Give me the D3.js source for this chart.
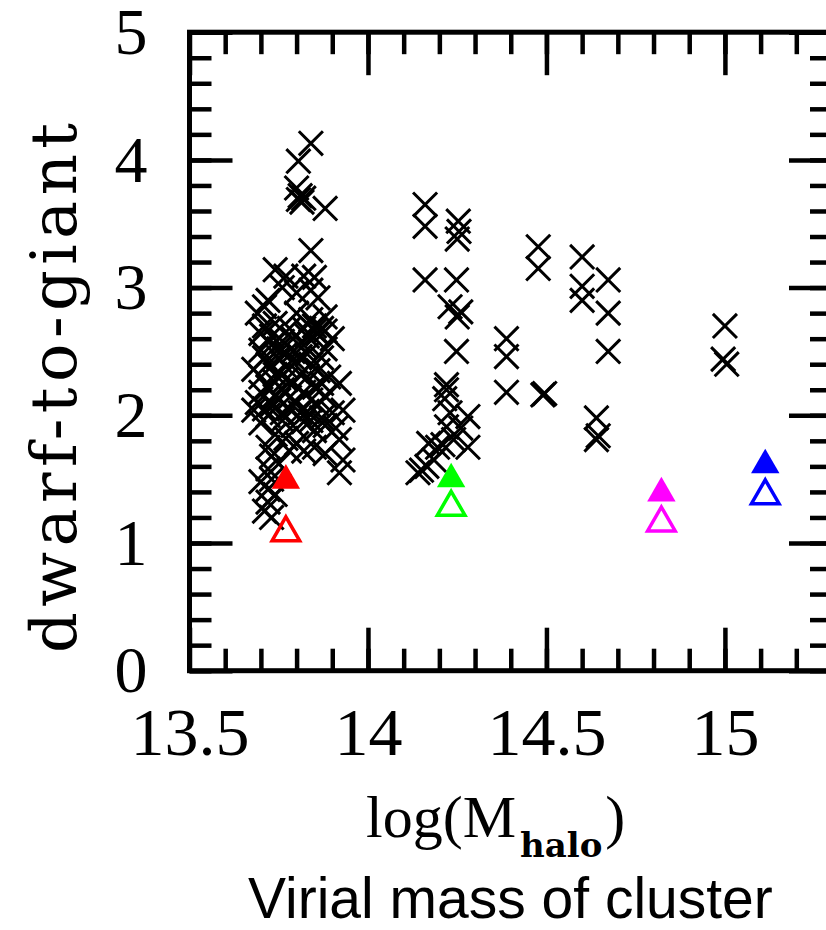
<!DOCTYPE html>
<html>
<head>
<meta charset="utf-8">
<script src="https://cdn.jsdelivr.net/npm/d3@7"></script>
<style>
  body { margin: 0; background: #fff; }
  svg { display: block; }
</style>
</head>
<body>
<div id="chart"></div>
<script>
// log(M_halo) vs dwarf-to-giant ratio, one cross per cluster
const crossPoints = [
  // low mass groups ~13.7-13.9
  [13.84,4.13],[13.805,3.99],[13.80,3.78],[13.81,3.72],[13.805,3.69],[13.82,3.70],[13.815,3.67],[13.88,3.62],[13.84,3.29],
  [13.74,3.14],[13.77,3.09],[13.82,3.09],[13.85,3.08],[13.76,3.00],[13.80,2.96],[13.84,2.98],[13.72,2.90],[13.86,2.92],[13.71,2.85],[13.69,2.80],[13.80,2.80],[13.88,2.77],
  [13.70,2.64],[13.70,2.51],[13.74,2.72],[13.78,2.68],[13.84,2.75],[13.85,2.70],[13.87,2.68],[13.88,2.66],[13.86,2.64],[13.83,2.62],[13.76,2.58],[13.73,2.55],[13.79,2.50],[13.82,2.55],[13.90,2.60],[13.88,2.52],[13.75,2.45],[13.72,2.40],
  [13.68,2.36],[13.70,2.30],[13.74,2.32],[13.77,2.38],[13.80,2.42],[13.84,2.40],[13.86,2.35],[13.89,2.30],[13.92,2.25],[13.72,2.22],[13.76,2.20],[13.79,2.25],[13.82,2.18],[13.85,2.22],[13.88,2.15],[13.69,2.10],[13.73,2.08],[13.75,2.12],[13.78,2.05],[13.80,2.10],[13.83,2.03],[13.86,2.08],[13.90,2.02],[13.93,2.04],[13.68,2.04],[13.70,1.94],[13.72,2.00],
  [13.71,2.70],[13.73,2.62],[13.75,2.52],[13.77,2.48],[13.81,2.46],[13.83,2.48],[13.87,2.45],[13.71,2.45],[13.74,2.26],[13.77,2.28],[13.81,2.32],[13.83,2.30],[13.87,2.25],
  [13.70,2.18],[13.74,2.16],[13.78,2.14],[13.81,2.02],[13.84,2.12],[13.87,1.98],[13.76,2.02],[13.71,2.05],[13.84,1.96],[13.82,2.68],[13.85,2.66],[13.79,2.60],
  [13.76,1.96],[13.79,1.92],[13.82,1.95],[13.85,1.88],[13.88,1.92],[13.91,1.90],[13.74,1.85],[13.77,1.82],[13.80,1.78],[13.85,1.75],[13.88,1.70],[13.92,1.81],[13.93,1.65],[13.92,1.55],[13.72,1.75],[13.73,1.68],[13.75,1.62],[13.82,1.72],[13.78,1.72],
  [13.72,1.58],[13.73,1.50],[13.72,1.42],[13.74,1.38],[13.72,1.32],[13.71,1.25],[13.73,1.20],[13.70,1.48],
  // ~14.2
  [14.16,3.65],[14.16,3.48],[14.253,3.52],[14.255,3.44],[14.25,3.38],[14.16,3.06],[14.248,3.06],[14.23,2.85],[14.25,2.77],[14.26,2.81],[14.248,2.50],
  [14.22,2.24],[14.22,2.20],[14.215,2.13],[14.23,2.02],[14.28,1.99],[14.22,1.91],[14.28,1.75],[14.21,1.77],[14.17,1.78],[14.195,1.75],[14.24,1.81],[14.26,1.90],[14.185,1.65],[14.165,1.60],[14.15,1.57],[14.14,1.55],
  // ~14.4-14.7
  [14.388,2.60],[14.388,2.46],[14.388,2.18],[14.49,2.16],[14.495,2.17],[14.477,3.32],[14.477,3.15],
  [14.60,3.24],[14.673,3.06],[14.60,3.01],[14.60,2.90],[14.673,2.80],[14.673,2.50],[14.64,1.98],[14.64,1.81],[14.645,1.84],
  // ~15
  [15.0,2.70],[14.995,2.44],[15.005,2.40]
];

const triMass = [13.77, 14.233, 14.822, 15.113];
const triFilledRatio = [1.49, 1.50, 1.39, 1.61];
const triOpenRatio = [1.08, 1.28, 1.157, 1.37];
const triColors = ["#ff0000", "#00ff00", "#ff00ff", "#0000ff"];

const xMajor = [13.5, 14, 14.5, 15];
const xMinor = d3.range(136, 154).map(d => d / 10);
const yMajor = [0, 1, 2, 3, 4, 5];
const yMinor = d3.range(0, 26).map(d => d / 5);

const width = 826, height = 930;

const svg = d3.select("#chart").append("svg")
    .attr("width", width)
    .attr("height", height);

svg.append("rect").attr("width", width).attr("height", height).attr("fill", "#fff");

const x = d3.scaleLinear().domain([13.5, 15.3]).range([189.5, 832]);
const y = d3.scaleLinear().domain([0, 5]).range([670.7, 32.2]);

const tickFont = "'Liberation Serif', serif";

function styleAxis(g) {
    g.select(".domain").remove();
    g.selectAll(".tick line").attr("stroke", "#000").attr("stroke-width", 4.5);
    g.selectAll("text").attr("fill", "#000");
}

// minor ticks on all four sides
svg.append("g").attr("transform", "translate(0," + y(0) + ")")
    .call(d3.axisBottom(x).tickValues(xMinor).tickSize(-22).tickFormat(""))
    .call(styleAxis);
svg.append("g").attr("transform", "translate(0," + y(5) + ")")
    .call(d3.axisTop(x).tickValues(xMinor).tickSize(-22).tickFormat(""))
    .call(styleAxis);
svg.append("g").attr("transform", "translate(" + x(13.5) + ",0)")
    .call(d3.axisLeft(y).tickValues(yMinor).tickSize(-22).tickFormat(""))
    .call(styleAxis);
svg.append("g").attr("transform", "translate(" + x(15.3) + ",0)")
    .call(d3.axisRight(y).tickValues(yMinor).tickSize(-22).tickFormat(""))
    .call(styleAxis);

// major ticks + labels
svg.append("g").attr("transform", "translate(0," + y(0) + ")")
    .call(d3.axisBottom(x).tickValues(xMajor).tickSize(-43).tickPadding(36).tickFormat(d3.format("")))
    .call(styleAxis)
    .attr("font-family", tickFont).attr("font-size", 68);
svg.append("g").attr("transform", "translate(0," + y(5) + ")")
    .call(d3.axisTop(x).tickValues(xMajor).tickSize(-43).tickFormat(""))
    .call(styleAxis);
svg.append("g").attr("transform", "translate(" + x(13.5) + ",0)")
    .call(d3.axisLeft(y).tickValues(yMajor).tickSize(-43).tickPadding(42).tickFormat(d3.format("d")))
    .call(styleAxis)
    .attr("font-family", tickFont).attr("font-size", 66);
svg.append("g").attr("transform", "translate(" + x(15.3) + ",0)")
    .call(d3.axisRight(y).tickValues(yMajor).tickSize(-43).tickFormat(""))
    .call(styleAxis);

// frame
svg.append("rect")
    .attr("x", x(13.5)).attr("y", y(5))
    .attr("width", x(15.3) - x(13.5)).attr("height", y(0) - y(5))
    .attr("fill", "none").attr("stroke", "#000").attr("stroke-width", 5);

// crosses
const cross = d3.symbol(d3.symbolTimes, 380);
svg.append("g").selectAll("path")
    .data(crossPoints)
    .enter().append("path")
    .attr("d", cross)
    .attr("transform", d => "translate(" + x(d[0]) + "," + y(d[1]) + ")")
    .attr("fill", "none")
    .attr("stroke", "#000")
    .attr("stroke-width", 3);

// triangles
const triFilled = d3.symbol(d3.symbolTriangle, 350);
const triOpen = d3.symbol(d3.symbolTriangle, 330);
svg.append("g").selectAll("path")
    .data(triMass)
    .enter().append("path")
    .attr("d", triFilled)
    .attr("transform", (d, i) => "translate(" + x(d) + "," + y(triFilledRatio[i]) + ")")
    .attr("fill", (d, i) => triColors[i]);
svg.append("g").selectAll("path")
    .data(triMass)
    .enter().append("path")
    .attr("d", triOpen)
    .attr("transform", (d, i) => "translate(" + x(d) + "," + y(triOpenRatio[i]) + ")")
    .attr("fill", "none")
    .attr("stroke", (d, i) => triColors[i])
    .attr("stroke-width", 3.5);

// axis titles
svg.append("text")
    .attr("transform", "translate(76,388) rotate(-90)")
    .attr("text-anchor", "middle")
    .attr("font-family", "'DejaVu Serif', serif")
    .attr("font-size", 64)
    .attr("textLength", 530)
    .attr("lengthAdjust", "spacing")
    .text("dwarf-to-giant");

const xt = svg.append("text")
    .attr("x", 366).attr("y", 837)
    .attr("font-family", tickFont)
    .attr("font-size", 60);
xt.append("tspan").text("log(M");
xt.append("tspan").attr("dx", 4).attr("dy", 20)
    .attr("font-family", "'DejaVu Serif', serif").attr("font-weight", "bold")
    .attr("font-size", 34).text("halo");
xt.append("tspan").attr("dx", 3).attr("dy", -20).text(")");

svg.append("text")
    .attr("x", 248).attr("y", 918)
    .attr("font-family", "'Liberation Sans', Arial, sans-serif")
    .attr("font-size", 57)
    .text("Virial mass of cluster");
</script>
</body>
</html>
